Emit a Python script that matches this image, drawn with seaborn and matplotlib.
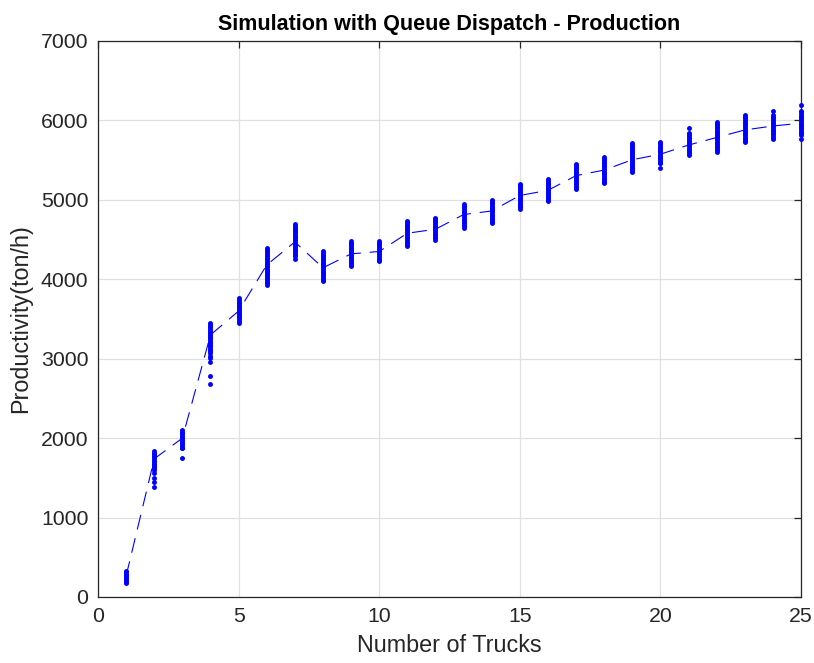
import matplotlib
matplotlib.use("Agg")
import matplotlib.pyplot as plt
import seaborn as sns
import pandas as pd

# Number of trucks in the fleet
trucks = list(range(1, 26))

# Productivity samples (ton/h) from the simulation replications, one list per fleet size
samples = [
    [175, 192, 209, 226, 243, 260, 277, 294, 311, 328],
    [1838, 1818, 1798, 1778, 1758, 1738, 1718, 1698, 1678, 1660, 1640, 1620, 1599, 1557, 1494, 1452, 1381],
    [2100, 2080, 2060, 2040, 2020, 2000, 1980, 1960, 1940, 1920, 1900, 1880, 1870, 1754],
    [3455, 3435, 3415, 3395, 3375, 3355, 3335, 3315, 3295, 3275, 3255, 3235, 3215, 3195,
     3175, 3155, 3135, 3115, 3095, 3070, 3040, 3005, 2962, 2782, 2681],
    [3760, 3740, 3720, 3700, 3680, 3660, 3640, 3620, 3600, 3580, 3560, 3540, 3520, 3500, 3480, 3446],
    [4390, 4370, 4350, 4330, 4310, 4290, 4270, 4250, 4230, 4210, 4190, 4170, 4150, 4130,
     4110, 4090, 4070, 4050, 4030, 4010, 3990, 3970, 3950, 3930],
    [4690, 4670, 4650, 4630, 4610, 4590, 4570, 4550, 4530, 4510, 4490, 4470, 4450, 4430,
     4410, 4390, 4370, 4350, 4330, 4310, 4290, 4260],
    [4350, 4330, 4310, 4290, 4270, 4250, 4230, 4210, 4190, 4170, 4150, 4130, 4110, 4090,
     4070, 4050, 4030, 4010, 3990, 3978],
    [4480, 4460, 4440, 4420, 4400, 4380, 4360, 4340, 4320, 4300, 4280, 4260, 4240, 4220,
     4200, 4180, 4168],
    [4480, 4460, 4440, 4420, 4400, 4380, 4360, 4340, 4320, 4300, 4280, 4260, 4245, 4230],
    [4735, 4715, 4695, 4675, 4655, 4635, 4615, 4595, 4575, 4555, 4535, 4515, 4495, 4475,
     4455, 4435, 4423],
    [4775, 4755, 4735, 4715, 4695, 4675, 4655, 4635, 4615, 4595, 4575, 4555, 4535, 4515, 4497],
    [4945, 4925, 4905, 4885, 4865, 4845, 4825, 4805, 4785, 4765, 4745, 4725, 4705, 4685,
     4665, 4645],
    [4995, 4975, 4955, 4935, 4915, 4895, 4875, 4855, 4835, 4815, 4795, 4775, 4755, 4735,
     4715, 4705],
    [5205, 5185, 5165, 5145, 5125, 5105, 5085, 5065, 5045, 5025, 5005, 4985, 4965, 4945,
     4925, 4905, 4885],
    [5258, 5238, 5218, 5198, 5178, 5158, 5138, 5118, 5098, 5078, 5058, 5038, 5018, 4998, 4980],
    [5455, 5435, 5415, 5395, 5375, 5355, 5335, 5315, 5295, 5275, 5255, 5235, 5215, 5195,
     5175, 5155, 5140],
    [5540, 5520, 5500, 5480, 5460, 5440, 5420, 5400, 5380, 5360, 5340, 5320, 5300, 5280,
     5260, 5240, 5222, 5210],
    [5715, 5695, 5675, 5655, 5635, 5615, 5595, 5575, 5555, 5535, 5515, 5495, 5475, 5455,
     5435, 5415, 5395, 5375, 5360, 5345],
    [5730, 5710, 5690, 5670, 5650, 5630, 5610, 5590, 5570, 5550, 5530, 5510, 5490, 5470,
     5460, 5395],
    [5910, 5845, 5825, 5805, 5785, 5765, 5745, 5725, 5705, 5685, 5665, 5645, 5625, 5605,
     5585, 5568],
    [5980, 5960, 5940, 5920, 5900, 5880, 5860, 5840, 5820, 5800, 5780, 5760, 5740, 5720,
     5700, 5680, 5660, 5640, 5622, 5608],
    [6065, 6045, 6025, 6005, 5985, 5965, 5945, 5925, 5905, 5885, 5865, 5845, 5825, 5805,
     5785, 5765, 5745, 5727],
    [6118, 6065, 6045, 6025, 6005, 5985, 5965, 5945, 5925, 5905, 5885, 5865, 5845, 5825,
     5805, 5785, 5768],
    [6190, 6120, 6100, 6080, 6060, 6040, 6020, 6000, 5980, 5960, 5940, 5920, 5900, 5880,
     5860, 5840, 5818, 5765],
]

# Mean productivity per fleet size (ton/h)
mean_prod = [265, 1740, 2000, 3300, 3600, 4180, 4470, 4145, 4320, 4350,
             4580, 4630, 4815, 4860, 5055, 5120, 5305, 5375, 5505, 5575,
             5690, 5785, 5880, 5930, 5965]

x_ticks = [0, 5, 10, 15, 20, 25]
y_ticks = [0, 1000, 2000, 3000, 4000, 5000, 6000, 7000]

points = pd.DataFrame(
    [(n, v) for n, vals in zip(trucks, samples) for v in vals],
    columns=["trucks", "productivity"],
)
means = pd.DataFrame({"trucks": trucks, "productivity": mean_prod})

sns.set_style("white")
plt.rcParams["font.family"] = ["Liberation Sans", "DejaVu Sans"]

ink = "#262626"
fig = plt.figure(figsize=(8.14, 6.63), dpi=100)
ax = fig.add_axes([98 / 814, 1 - 597 / 663, 703 / 814, 556 / 663])

sns.lineplot(data=means, x="trucks", y="productivity", ax=ax, color=(0, 0, 1),
             lw=0.8, dashes=False, zorder=2)
ax.lines[-1].set_dashes((13.5, 8))
sns.scatterplot(data=points, x="trucks", y="productivity", ax=ax, color=(0, 0, 1),
                s=12.5, linewidth=0, zorder=3, clip_on=False)

ax.set_xlim(0, 25)
ax.set_ylim(0, 7000)
ax.set_xticks(x_ticks)
ax.set_yticks(y_ticks)
ax.grid(True, color="#e0e0e0", lw=0.9)
ax.set_axisbelow(True)

for side in ax.spines.values():
    side.set_visible(True)
    side.set_color(ink)
    side.set_linewidth(0.9)
ax.tick_params(direction="in", length=5, width=0.9, colors=ink, labelsize=15.3,
               top=True, right=True, pad=7)

ax.set_xlabel("Number of Trucks", fontsize=16.8, color=ink, labelpad=6)
ax.set_ylabel("Productivity(ton/h)", fontsize=16.8, color=ink, labelpad=6)
ax.set_title("Simulation with Queue Dispatch - Production", fontsize=15.5,
             fontweight="bold", color="black", pad=8)

fig.savefig("out.png", dpi=100, facecolor="white")
